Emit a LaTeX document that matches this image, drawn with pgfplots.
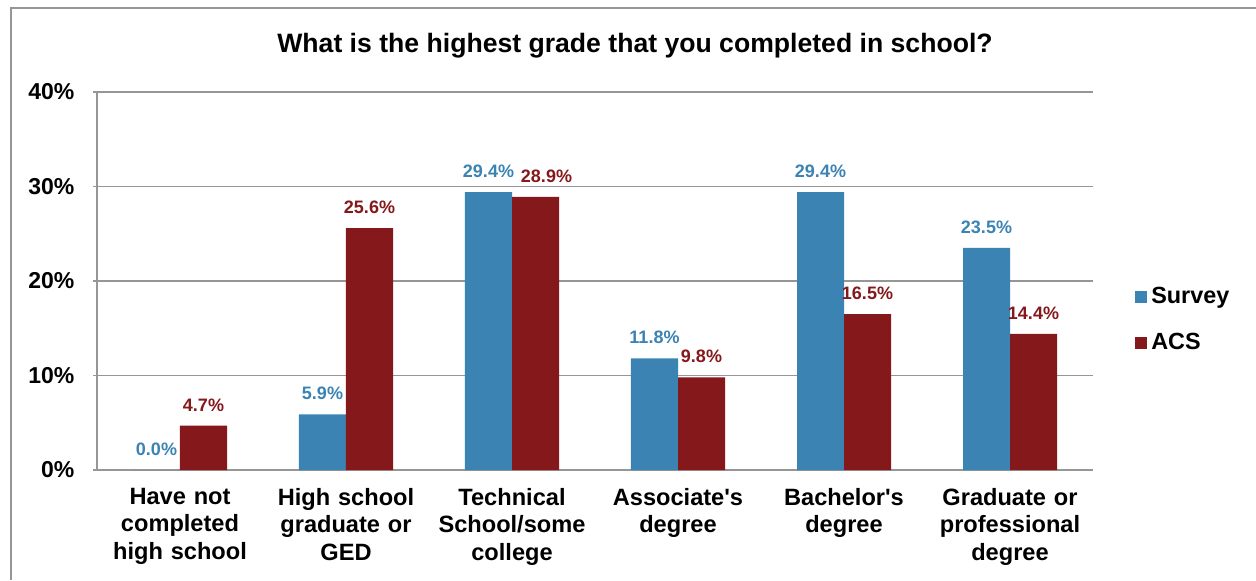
\documentclass[border=0pt]{standalone}
\usepackage{pgfplots}
\pgfplotsset{compat=1.18}
\usepackage{fontspec}
\setmainfont{Liberation Sans}
\definecolor{survey}{HTML}{3A83B3}
\definecolor{acs}{HTML}{84181A}
\definecolor{gridc}{HTML}{969696}
\begin{document}
\begin{tikzpicture}
\path[use as bounding box] (0,0) rectangle (628pt,290pt);
\draw[gridc, line width=1pt] (5.5pt,0) -- (5.5pt,286pt) -- (628pt,286pt);
\node[anchor=base, font=\fontsize{13.3}{16}\selectfont\bfseries] at (317.5pt,264pt) {What is the highest grade that you completed in school?};
\begin{axis}[
  at={(48.5pt,55pt)}, anchor=south west,
  scale only axis, width=498pt, height=189pt,
  ymin=0, ymax=40, ytick={0,10,20,30,40},
  yticklabel={\pgfmathprintnumber{\tick}\%},
  xmin=-0.5, xmax=5.5,
  xtick={0,1,2,3,4,5},
  xticklabels={Have not\\completed\\high school, High school\\graduate or\\GED, Technical\\School/some\\college, Associate\textquotesingle s\\degree, Bachelor\textquotesingle s\\degree, Graduate or\\professional\\degree},
  extra x ticks={-0.5,0.5,1.5,2.5,3.5,4.5,5.5},
  extra x tick labels={},
  extra x tick style={major tick length=3.5pt, tick style={gridc, line width=0.9pt}, grid=none},
  x tick style={draw=none},
  major tick length=3.5pt,
  tick align=outside,
  y tick style={gridc, line width=0.9pt},
  axis x line=bottom, axis y line=left,
  axis line style={-, gridc, line width=0.9pt},
  ymajorgrids, grid style={gridc, line width=0.9pt},
  /pgf/number format/assume math mode=true,
  yticklabel style={font=\fontsize{11.5}{13}\selectfont\bfseries, xshift=-6pt},
  xticklabel style={font=\fontsize{11.8}{13.75}\selectfont\bfseries, align=center, text width=90pt, anchor=north, yshift=-2pt},
  ybar=0pt, bar width=23.5pt,
  nodes near coords={\pgfmathprintnumber[fixed,fixed zerofill,precision=1]{\pgfplotspointmeta}\%},
  every node near coord/.append style={font=\fontsize{9}{11}\selectfont\bfseries, inner sep=0pt, anchor=south, yshift=7pt},
  legend style={at={(1.036,0.397)}, anchor=west, draw=none, fill=none, font=\fontsize{11.7}{14}\selectfont\bfseries, row sep=9.5pt, cells={anchor=west}, /tikz/every even column/.append style={column sep=3pt}},
  legend image code/.code={\fill[#1] (0pt,-3pt) rectangle (6pt,3pt);},
  clip=false,
]
\addplot[fill=survey, draw=none, every node near coord/.append style={text=survey}] coordinates {(0,0.0) (1,5.9) (2,29.4) (3,11.8) (4,29.4) (5,23.5)};
\addplot[fill=acs, draw=none, every node near coord/.append style={text=acs}, coordinate style/.condition={x==2}{xshift=5.5pt}] coordinates {(0,4.7) (1,25.6) (2,28.9) (3,9.8) (4,16.5) (5,14.4)};
\legend{Survey, ACS}
\end{axis}
\end{tikzpicture}
\end{document}
